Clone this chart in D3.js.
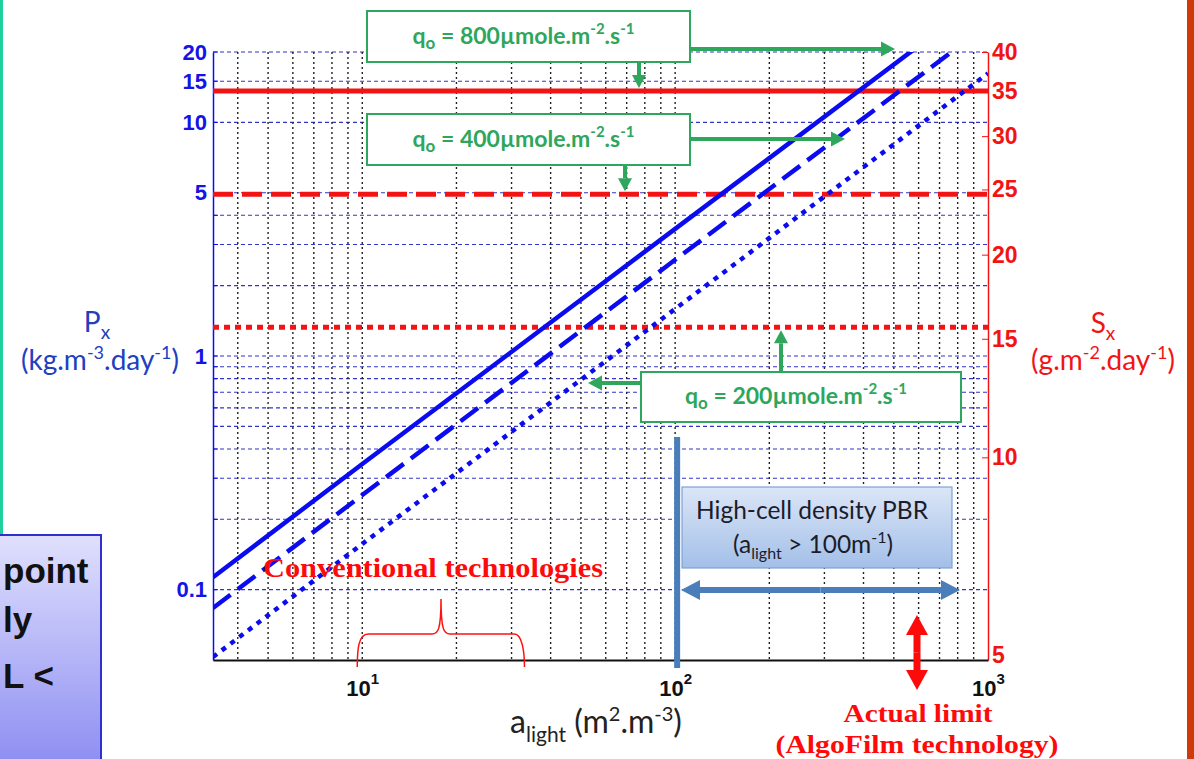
<!DOCTYPE html>
<html>
<head>
<meta charset="utf-8">
<script src="https://cdn.jsdelivr.net/npm/d3@7"></script>
<style>
  html, body { margin: 0; padding: 0; background: #fff; }
  svg { display: block; }
</style>
</head>
<body>
<svg id="chart" width="1194" height="759"></svg>
<script>
// ---- data ----
// specific illuminated surface a_light (m2.m-3)
const aLight = [10 / 3, 10, 100, 1000];
// volumetric productivity Px (kg.m-3.day-1) for each incident flux
const px800 = [0.113, 0.345, 3.5, 35.5];
const px400 = [0.0835, 0.254, 2.58, 26.2];
const px200 = [0.0515, 0.157, 1.59, 16.2];
// surface productivity limits Sx (g.m-2.day-1) for 800 / 400 / 200
const sxLimits = [35, 24.6, 15.6];
const fluxLabels = ["800", "400", "200"];

// axis ticks
const pxTickLabels = [0.1, 1, 5, 10, 15, 20];
const pxGrid = [0.1, 0.2, 0.3, 0.4, 0.5, 0.6, 0.7, 0.8, 0.9, 1, 2, 3, 4, 5, 10, 15, 20];
const sxTicks = [5, 10, 15, 20, 25, 30, 35, 40];
const aTicks = [10, 100, 1000];
const aGrid = [4, 5, 6, 7, 8, 9, 10, 20, 30, 40, 50, 60, 70, 80, 90, 100,
               200, 300, 400, 500, 600, 700, 800, 900];
const conventionalRange = [10, 33];
const highDensityFrom = 100;

// ---- layout ----
const svg = d3.select("#chart");
const L = 213, R = 988, T = 52, B = 660;

const x = d3.scaleLog().domain([10 / 3, 1000]).range([L, R]);
const y = d3.scaleLog().domain([0.05, 20]).range([B, T]);
const ySx = d3.scaleLog().domain([5, 40]).range([B, T]);

const BLUE = "#0b0bef", RED = "#f21414", GREEN = "#2ea65c", STEEL = "#4a7ebb";
const ARIAL = "'Liberation Sans', Arial, sans-serif";
const CALIBRI = "Lato, 'Open Sans', sans-serif";
const SERIF = "'Liberation Serif', 'DejaVu Serif', serif";

const defs = svg.append("defs");
defs.append("clipPath").attr("id", "plotClip")
  .append("rect").attr("x", L).attr("y", T).attr("width", R - L).attr("height", B - T);
const pg = defs.append("linearGradient").attr("id", "purpleFill")
  .attr("x1", 0).attr("y1", 0).attr("x2", 0).attr("y2", 1);
pg.append("stop").attr("offset", 0).attr("stop-color", "#e0e0fd");
pg.append("stop").attr("offset", 1).attr("stop-color", "#8a8af2");
const bg = defs.append("linearGradient").attr("id", "pbrFill")
  .attr("x1", 0).attr("y1", 0).attr("x2", 0).attr("y2", 1);
bg.append("stop").attr("offset", 0).attr("stop-color", "#dbe6f7");
bg.append("stop").attr("offset", 1).attr("stop-color", "#a3bfe8");

// ---- slide frame pieces ----
svg.append("rect").attr("x", 0).attr("y", 0).attr("width", 3).attr("height", 536).attr("fill", "#1fcf9c");
svg.append("rect").attr("x", 1187).attr("y", 0).attr("width", 7).attr("height", 759).attr("fill", "#cf3a0b");
const side = svg.append("g");
side.append("rect").attr("x", -2).attr("y", 535).attr("width", 103).attr("height", 240)
  .attr("fill", "url(#purpleFill)").attr("stroke", "#3030d2").attr("stroke-width", 2);
const sideText = side.append("g")
  .attr("font-family", ARIAL).attr("font-weight", "bold").attr("font-size", 35).attr("fill", "#111");
sideText.append("text").attr("x", 3).attr("y", 583).text("point");
sideText.append("text").attr("x", 3).attr("y", 632).text("ly");
sideText.append("text").attr("x", 3).attr("y", 688).text("L <");

// ---- grid ----
const grid = svg.append("g");
grid.selectAll("line.h").data(pxGrid).join("line")
  .attr("x1", L).attr("x2", R).attr("y1", d => y(d)).attr("y2", d => y(d))
  .attr("stroke", "#3535c8").attr("stroke-width", 1.1).attr("stroke-dasharray", "4,3");
grid.selectAll("line.v").data(aGrid).join("line")
  .attr("x1", d => x(d)).attr("x2", d => x(d)).attr("y1", T).attr("y2", B)
  .attr("stroke", "#222").attr("stroke-width", 1.4).attr("stroke-dasharray", "2,3");

// ---- axes ----
const leftAxis = svg.append("g").attr("transform", `translate(${L},0)`)
  .call(d3.axisLeft(y).tickValues(pxTickLabels).tickSize(0).tickPadding(6)
    .tickFormat(d => String(d)));
leftAxis.select(".domain").attr("stroke", BLUE).attr("stroke-width", 1.5);
leftAxis.selectAll("text").attr("font-family", ARIAL).attr("font-weight", "bold")
  .attr("font-size", 22).attr("fill", "#1414e6");
// small inner ticks along the Px axis
svg.append("g").selectAll("line").data(pxGrid).join("line")
  .attr("x1", L).attr("x2", L + 5).attr("y1", d => y(d)).attr("y2", d => y(d))
  .attr("stroke", BLUE).attr("stroke-width", 1);

const rightAxis = svg.append("g").attr("transform", `translate(${R},0)`)
  .call(d3.axisRight(ySx).tickValues(sxTicks).tickSizeInner(-6).tickSizeOuter(0).tickPadding(4)
    .tickFormat(d => String(d)));
rightAxis.select(".domain").attr("stroke", RED).attr("stroke-width", 1.5);
rightAxis.selectAll(".tick line").attr("stroke", RED).attr("stroke-width", 1);
rightAxis.selectAll("text").attr("font-family", ARIAL).attr("font-weight", "bold")
  .attr("font-size", 23).attr("fill", RED);
rightAxis.selectAll(".tick").filter(d => d === 5).select("text").attr("dy", "0.1em");

const bottomAxis = svg.append("g").attr("transform", `translate(0,${B})`)
  .call(d3.axisBottom(x).tickValues(aTicks).tickSize(0).tickFormat(""));
bottomAxis.select(".domain").attr("stroke", "#111").attr("stroke-width", 2);
bottomAxis.selectAll(".tick text").each(function (d) {
  const t = d3.select(this).text(null)
    .attr("y", 36).attr("dy", 0).attr("text-anchor", "middle")
    .attr("font-family", ARIAL).attr("font-weight", "bold").attr("fill", "#111");
  t.append("tspan").attr("font-size", 22).text("10");
  t.append("tspan").attr("font-size", 15).attr("dy", -12).text(String(Math.round(Math.log10(d))));
});

// ---- axis titles ----
const pxTitle = svg.append("g").attr("font-family", CALIBRI).attr("fill", "#2040bf").attr("font-size", 28);
const p1 = pxTitle.append("text").attr("x", 97).attr("y", 332).attr("text-anchor", "middle");
p1.append("tspan").text("P");
p1.append("tspan").attr("font-size", 19).attr("dy", 7).text("x");
const p2 = pxTitle.append("text").attr("x", 100).attr("y", 370).attr("text-anchor", "middle");
p2.append("tspan").text("(kg.m");
p2.append("tspan").attr("font-size", 18).attr("dy", -11).text("-3");
p2.append("tspan").attr("dy", 11).text(".day");
p2.append("tspan").attr("font-size", 18).attr("dy", -11).text("-1");
p2.append("tspan").attr("dy", 11).text(")");

const sxTitle = svg.append("g").attr("font-family", CALIBRI).attr("fill", RED).attr("font-size", 28);
const s1 = sxTitle.append("text").attr("x", 1103).attr("y", 333).attr("text-anchor", "middle");
s1.append("tspan").text("S");
s1.append("tspan").attr("font-size", 19).attr("dy", 7).text("x");
const s2 = sxTitle.append("text").attr("x", 1103).attr("y", 370).attr("text-anchor", "middle");
s2.append("tspan").text("(g.m");
s2.append("tspan").attr("font-size", 18).attr("dy", -11).text("-2");
s2.append("tspan").attr("dy", 11).text(".day");
s2.append("tspan").attr("font-size", 18).attr("dy", -11).text("-1");
s2.append("tspan").attr("dy", 11).text(")");

const xt = svg.append("text").attr("x", 596).attr("y", 733).attr("text-anchor", "middle")
  .attr("font-family", CALIBRI).attr("font-size", 32).attr("fill", "#222");
xt.append("tspan").text("a");
xt.append("tspan").attr("font-size", 21).attr("dy", 9).text("light");
xt.append("tspan").attr("dy", -9).text(" (m");
xt.append("tspan").attr("font-size", 20).attr("dy", -12).text("2");
xt.append("tspan").attr("dy", 12).text(".m");
xt.append("tspan").attr("font-size", 20).attr("dy", -12).text("-3");
xt.append("tspan").attr("dy", 12).text(")");

// ---- Sx limit lines (red) ----
const limitDash = ["none", "20,9", "6,5"];
const plot = svg.append("g").attr("clip-path", "url(#plotClip)");
plot.selectAll("line.limit").data(sxLimits).join("line")
  .attr("x1", L).attr("x2", R).attr("y1", d => ySx(d)).attr("y2", d => ySx(d))
  .attr("stroke", RED).attr("stroke-width", 5)
  .attr("stroke-dasharray", (d, i) => limitDash[i]);

// ---- productivity lines (blue) ----
const series = [px800, px400, px200];
const seriesDash = ["none", "22,9", "5,6"];
const line = d3.line().x(d => x(d[0])).y(d => y(d[1]));
plot.selectAll("path.series").data(series).join("path")
  .attr("d", s => line(aLight.map((a, i) => [a, s[i]])))
  .attr("fill", "none").attr("stroke", BLUE).attr("stroke-width", 4.5)
  .attr("stroke-dasharray", (d, i) => seriesDash[i]);

// ---- helpers for arrows ----
function arrow(g, x1, y1, x2, y2, color, w, headL, headW) {
  const ang = Math.atan2(y2 - y1, x2 - x1);
  const bx = x2 - headL * Math.cos(ang), by = y2 - headL * Math.sin(ang);
  g.append("line").attr("x1", x1).attr("y1", y1).attr("x2", bx).attr("y2", by)
    .attr("stroke", color).attr("stroke-width", w);
  const px = -Math.sin(ang) * headW / 2, py = Math.cos(ang) * headW / 2;
  g.append("polygon")
    .attr("points", `${x2},${y2} ${bx + px},${by + py} ${bx - px},${by - py}`)
    .attr("fill", color);
}
function doubleArrow(g, x1, y1, x2, y2, color, w, headL, headW) {
  const mx = (x1 + x2) / 2, my = (y1 + y2) / 2;
  arrow(g, mx, my, x1, y1, color, w, headL, headW);
  arrow(g, mx, my, x2, y2, color, w, headL, headW);
}

// ---- incident flux call-outs (green) ----
const boxes = [
  { x: 367, y: 11, w: 323, h: 51, base: 44 },
  { x: 367, y: 114, w: 323, h: 51, base: 147 },
  { x: 641, y: 372, w: 320, h: 50, base: 404 }
];
const callouts = svg.append("g");
boxes.forEach((b, i) => {
  callouts.append("rect").attr("x", b.x).attr("y", b.y).attr("width", b.w).attr("height", b.h)
    .attr("fill", "#fff").attr("stroke", GREEN).attr("stroke-width", 2);
  const t = callouts.append("text").attr("x", b.x + b.w / 2 - 5).attr("y", b.base)
    .attr("text-anchor", "middle").attr("font-family", CALIBRI).attr("font-weight", "bold")
    .attr("font-size", 23).attr("fill", GREEN);
  t.append("tspan").text("q");
  t.append("tspan").attr("font-size", 17).attr("dy", 5).text("o");
  t.append("tspan").attr("dy", -5).text(` = ${fluxLabels[i]}\u00b5mole.m`);
  t.append("tspan").attr("font-size", 15).attr("dy", -10).text("-2");
  t.append("tspan").attr("dy", 10).text(".s");
  t.append("tspan").attr("font-size", 15).attr("dy", -10).text("-1");
});
// arrows towards productivity lines
arrow(callouts, 690, 49, 895, 49, GREEN, 4, 14, 15);
arrow(callouts, 690, 139, 845, 139, GREEN, 4, 14, 15);
arrow(callouts, 641, 383, 588, 383, GREEN, 4, 14, 15);
// arrows towards Sx limits
arrow(callouts, 639, 62, 639, ySx(sxLimits[0]) - 3, GREEN, 4, 13, 14);
arrow(callouts, 625, 165, 625, ySx(sxLimits[1]) - 3, GREEN, 4, 13, 14);
arrow(callouts, 781, 372, 781, ySx(sxLimits[2]) + 3, GREEN, 4, 13, 14);

// ---- high-cell density region ----
const hd = svg.append("g");
hd.append("line").attr("x1", x(highDensityFrom) + 2).attr("x2", x(highDensityFrom) + 2)
  .attr("y1", 437).attr("y2", 668).attr("stroke", STEEL).attr("stroke-width", 6);
hd.append("rect").attr("x", 682).attr("y", 487).attr("width", 270).attr("height", 81)
  .attr("fill", "url(#pbrFill)").attr("stroke", "#7ea2d4").attr("stroke-width", 1.2);
hd.append("text").attr("x", 812).attr("y", 519).attr("text-anchor", "middle")
  .attr("font-family", CALIBRI).attr("font-size", 24.5).attr("fill", "#1c1c2a")
  .text("High-cell density PBR");
const hd2 = hd.append("text").attr("x", 813).attr("y", 553).attr("text-anchor", "middle")
  .attr("font-family", CALIBRI).attr("font-size", 24.5).attr("fill", "#1c1c2a");
hd2.append("tspan").text("(a");
hd2.append("tspan").attr("font-size", 16).attr("dy", 6).text("light");
hd2.append("tspan").attr("dy", -6).text(" > 100m");
hd2.append("tspan").attr("font-size", 16).attr("dy", -10).text("-1");
hd2.append("tspan").attr("dy", 10).text(")");
doubleArrow(hd, 681, 590, 960, 590, STEEL, 6, 19, 20);

// ---- actual limit ----
doubleArrow(svg.append("g"), 917, 615, 917, 690, "#ff0a0a", 7, 20, 22);
svg.append("text").attr("x", 918).attr("y", 722).attr("text-anchor", "middle")
  .attr("font-family", SERIF).attr("font-weight", "bold").attr("font-size", 26)
  .attr("fill", "#ff0a0a").attr("textLength", 149).attr("lengthAdjust", "spacingAndGlyphs")
  .text("Actual limit");
svg.append("text").attr("x", 917).attr("y", 753).attr("text-anchor", "middle")
  .attr("font-family", SERIF).attr("font-weight", "bold").attr("font-size", 26)
  .attr("fill", "#ff0a0a").attr("textLength", 283).attr("lengthAdjust", "spacingAndGlyphs")
  .text("(AlgoFilm technology)");

// ---- conventional technologies ----
const x0 = x(conventionalRange[0]) - 5, x1 = x(conventionalRange[1]);
const mid = 441;
svg.append("path")
  .attr("d", `M${x0},667 C${x0},650 ${x0 + 1},634 ${x0 + 11},634 L${mid - 9},634 ` +
             `C${mid - 3},634 ${mid},630 ${mid},599 C${mid},630 ${mid + 3},634 ${mid + 9},634 ` +
             `L${x1 - 10},634 C${x1 - 3},634 ${x1},650 ${x1},667`)
  .attr("fill", "none").attr("stroke", "#ff1010").attr("stroke-width", 1.5);
svg.append("text").attr("x", 433).attr("y", 577).attr("text-anchor", "middle")
  .attr("font-family", SERIF).attr("font-weight", "bold").attr("font-size", 28)
  .attr("fill", "#ff0a0a").attr("textLength", 340).attr("lengthAdjust", "spacingAndGlyphs")
  .text("Conventional technologies");
</script>
</body>
</html>
